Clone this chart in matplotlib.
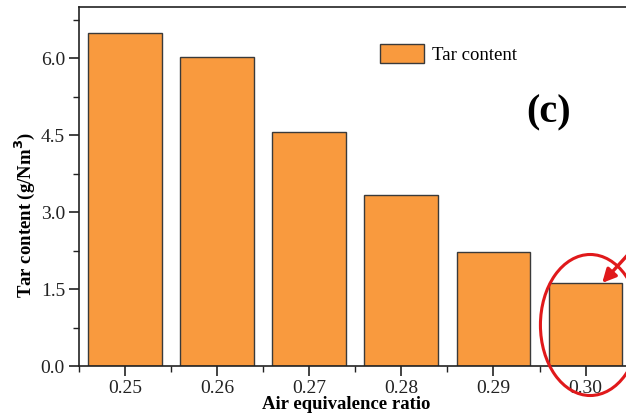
import matplotlib
matplotlib.use("Agg")
import matplotlib.pyplot as plt
from matplotlib.patches import Ellipse, FancyArrowPatch
from matplotlib.ticker import MultipleLocator, FixedLocator

categories = ["0.25", "0.26", "0.27", "0.28", "0.29", "0.30"]
tar_content = [6.49, 6.02, 4.56, 3.33, 2.22, 1.62]
yticks = [0.0, 1.5, 3.0, 4.5, 6.0]

plt.rcParams['font.family'] = ['Liberation Serif', 'DejaVu Serif']

fig = plt.figure(figsize=(6.26, 4.15), dpi=100)
ax = fig.add_axes([0.126, 0.118, 0.883, 0.865])

x = list(range(len(categories)))
ax.bar(x, tar_content, width=0.8, color='#F99A3E', edgecolor='#3a3a3a',
       linewidth=1.0, label='Tar content', zorder=2)

ax.set_xlim(-0.5, len(categories) - 0.5)
ax.set_ylim(0, 7.0)
ax.set_xticks(x)
ax.set_xticklabels(categories, fontsize=14)
ax.xaxis.set_minor_locator(FixedLocator([i + 0.5 for i in range(-1, len(categories))]))
ax.set_yticks(yticks)
ax.set_yticklabels([f"{v:.1f}" for v in yticks], fontsize=14)
ax.yaxis.set_minor_locator(MultipleLocator(0.75))
ax.tick_params(which='major', direction='out', length=7, width=1.2, colors='#222222',
               labelcolor='#222222', pad=3)
ax.tick_params(which='minor', direction='out', length=4, width=1.0, colors='#222222')
for s in ['left', 'bottom', 'top', 'right']:
    ax.spines[s].set_linewidth(1.2)
    ax.spines[s].set_color('#222222')

ax.set_xlabel('Air equivalence ratio', fontsize=13.5, fontweight='bold')
ax.xaxis.set_label_coords(0.483, -0.084)
ax.set_ylabel('Tar content (g/Nm$^\\mathbf{3}$)', fontsize=13.5, fontweight='bold')
ax.yaxis.set_label_coords(-0.076, 0.42)

leg = ax.legend(loc='upper left', bbox_to_anchor=(0.515, 0.945), frameon=False,
                fontsize=13.5, handlelength=2.3, handleheight=1.2, handletextpad=0.45)

ax.text(0.85, 0.705, '(c)', transform=ax.transAxes, fontsize=29, fontweight='bold',
        ha='center', va='center')

# red circle highlighting the last bar
ell = Ellipse((5.05, 0.8), width=1.08, height=2.75, fill=False, edgecolor='#e0191b',
              linewidth=2.2, zorder=5, clip_on=False)
ax.add_patch(ell)
arr = FancyArrowPatch((5.6, 2.45), (5.16, 1.58), arrowstyle='-|>', mutation_scale=20,
                      color='#e0191b', linewidth=2.4, zorder=6, clip_on=False)
ax.add_patch(arr)

fig.savefig('out.png', dpi=100)
